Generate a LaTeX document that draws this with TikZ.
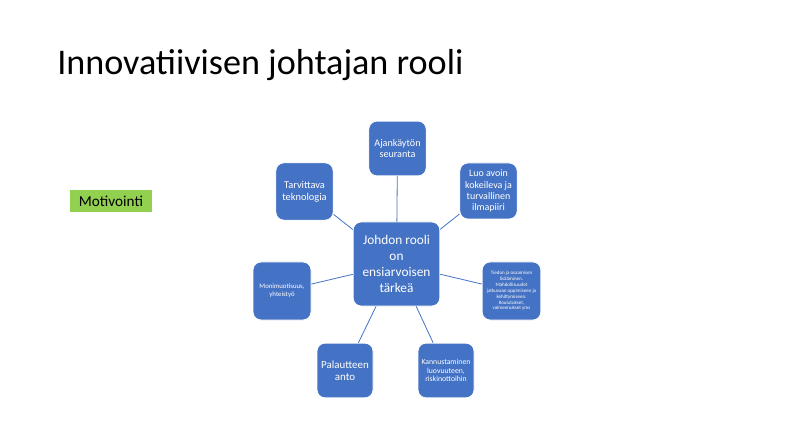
\documentclass[tikz,border=0pt]{standalone}
\usepackage{fontspec}
\setmainfont{Carlito}
\definecolor{boxblue}{HTML}{4472C4}
\definecolor{mgreen}{HTML}{92D050}
\begin{document}
\begin{tikzpicture}[x=0.75pt,y=-0.75pt,
  bbox/.style={draw=white,line width=0.6pt,fill=boxblue,rounded corners=6pt,text=white,align=center,inner sep=1pt},
  conn/.style={draw=boxblue,line width=0.6pt},
  fs/.style 2 args={font=\fontsize{#1}{#2}\selectfont}]
\useasboundingbox[fill=white] (0,0) rectangle (798,441);
\node[anchor=base west,inner sep=0pt,font=\fontsize{27.1}{32}\selectfont] (title) at (57,75) {Innovatiivisen johtajan rooli};
\node[fill=mgreen,minimum width=61.5pt,minimum height=17pt,inner sep=0pt,font=\fontsize{11.4}{13}\selectfont] (mot) at (111,201) {Motivointi};
\node[bbox,minimum width=65pt,minimum height=63pt,fs={10}{12}] (c) at (396.5,264) {Johdon rooli\\on\\ensiarvoisen\\tärkeä};
\node[bbox,minimum width=43pt,minimum height=41pt,fs={7.6}{8.6}] (a) at (397.5,148.5) {Ajankäytön\\seuranta};
\node[bbox,minimum width=43pt,minimum height=42pt,fs={7.5}{8.4}] (l) at (488.5,191) {Luo avoin\\kokeileva ja\\turvallinen\\ilmapiiri};
\node[bbox,minimum width=44pt,minimum height=43.5pt,fs={3.75}{4.4}] (t) at (511.5,291) {Tiedon ja osaamisen\\lisääminen.\\Mahdollisuudet\\jatkuvaan oppimiseen ja\\kehittymiseen.\\Koulutukset,\\valmennukset yms};
\node[bbox,minimum width=42pt,minimum height=41pt,fs={5.8}{6.4}] (k) at (446,370.5) {Kannustaminen\\luovuuteen,\\riskinottoihin};
\node[bbox,minimum width=42pt,minimum height=41pt,fs={8.2}{9}] (p) at (345,370.5) {Palautteen\\anto};
\node[bbox,minimum width=43.5pt,minimum height=43.5pt,fs={5.1}{5.8}] (m) at (282,291) {Monimuotisuus,\\yhteistyö};
\node[bbox,minimum width=43pt,minimum height=43pt,fs={7.8}{9}] (tv) at (304.5,191.5) {Tarvittava\\teknologia};
\foreach \n in {a,l,t,k,p,m,tv} \draw[conn] (c) -- (\n);
\end{tikzpicture}
\end{document}
